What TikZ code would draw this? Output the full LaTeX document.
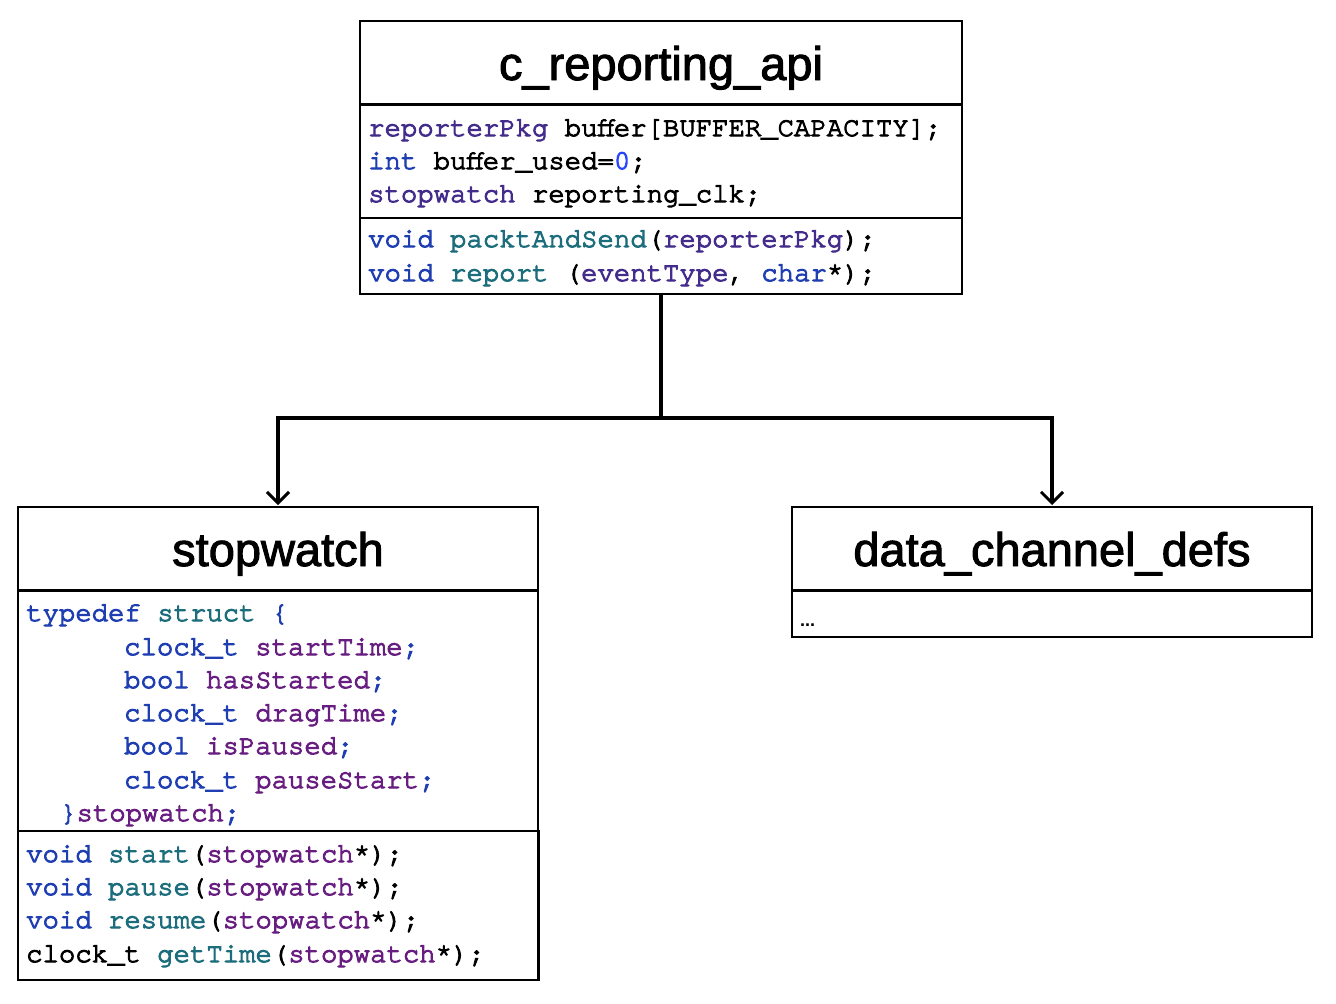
\documentclass[tikz,border=0pt]{standalone}
\usepackage{fontspec}
\setmainfont{Liberation Sans}
\newfontfamily\titlefont{Liberation Sans}[FakeBold=2]
\newfontfamily\codefont{TeX Gyre Cursor}[FakeBold=3.8]
\usetikzlibrary{arrows.meta}
\definecolor{kwc}{RGB}{30,62,178}
\definecolor{fnc}{RGB}{28,110,124}
\definecolor{tyc}{RGB}{68,44,140}
\definecolor{memc}{RGB}{104,30,128}
\definecolor{numc}{RGB}{40,70,255}
\newcommand{\kw}[1]{\textcolor{kwc}{#1}}
\newcommand{\fn}[1]{\textcolor{fnc}{#1}}
\newcommand{\ty}[1]{\textcolor{tyc}{#1}}
\newcommand{\mem}[1]{\textcolor{memc}{#1}}
\tikzset{
  classbox/.style={draw=black, line width=2pt, rectangle, inner sep=0pt},
  divider/.style={draw=black, line width=3pt},
  thindiv/.style={draw=black, line width=2pt},
  title/.style={font=\titlefont\fontsize{47}{50}\selectfont, anchor=base, inner sep=0pt},
  code/.style={font=\codefont\fontsize{27.3}{30}\selectfont, anchor=base west, inner sep=0pt},
  conn/.style={draw=black, line width=4pt},
  connarrow/.style={draw=black, line width=3.5pt, -{Straight Barb[length=11pt,width=22pt,line width=3pt]}, shorten >=1pt},
}
\begin{document}
\begin{tikzpicture}[x=1pt,y=-1pt]
\useasboundingbox[fill=white] (0,0) rectangle (1336,1004);

% c_reporting_api
\node[classbox, minimum width=602pt, minimum height=273pt] (api) at (661,157.5) {};
\draw[divider] (api.west |- 0,104) -- (api.east |- 0,104);
\draw[thindiv] (api.west |- 0,218) -- (api.east |- 0,218);
\node[title] (apititle) at (661,80) {c\_reporting\_api};
\node[code] (a1) at (368,136) {\ty{reporterPkg} buffer[BUFFER\_CAPACITY];};
\node[code] (a2) at (368,169) {\kw{int} buffer\_used=\textcolor{numc}{0};};
\node[code] (a3) at (368,202) {\ty{stopwatch} reporting\_clk;};
\node[code] (a4) at (368,247) {\kw{void} \fn{packtAndSend}(\ty{reporterPkg});};
\node[code] (a5) at (368,281) {\kw{void} \fn{report} (\ty{eventType}, \kw{char}*);};

% stopwatch
\node[classbox, minimum width=520pt, minimum height=473pt] (sw) at (278,743.5) {};
\draw[divider] (sw.west |- 0,590) -- (sw.east |- 0,590);
\node[classbox, minimum width=521pt, minimum height=149pt] (swm) at (278.5,905.5) {};
\node[title] (swtitle) at (278,566) {stopwatch};
\node[code] (s1) at (26,621) {\kw{typedef} \fn{struct} \kw{\{}};
\node[code] (s2) at (124,655) {\kw{clock\_t} \mem{startTime}\kw{;}};
\node[code] (s3) at (124,688) {\kw{bool} \mem{hasStarted}\kw{;}};
\node[code] (s4) at (124,721) {\kw{clock\_t} \mem{dragTime}\kw{;}};
\node[code] (s5) at (124,754) {\kw{bool} \mem{isPaused}\kw{;}};
\node[code] (s6) at (124,788) {\kw{clock\_t} \mem{pauseStart}\kw{;}};
\node[code] (s7) at (60,821) {\kw{\}}\mem{stopwatch}\kw{;}};
\node[code] (s8) at (26,862) {\kw{void} \fn{start}(\mem{stopwatch}*);};
\node[code] (s9) at (26,895) {\kw{void} \fn{pause}(\mem{stopwatch}*);};
\node[code] (s10) at (26,928) {\kw{void} \fn{resume}(\mem{stopwatch}*);};
\node[code] (s11) at (26,962) {clock\_t \fn{getTime}(\mem{stopwatch}*);};

% data_channel_defs
\node[classbox, minimum width=520pt, minimum height=130pt] (dc) at (1052,572) {};
\draw[divider] (dc.west |- 0,590) -- (dc.east |- 0,590);
\node[title] (dctitle) at (1052,566) {data\_channel\_defs};
\node[font=\fontsize{18}{20}\selectfont\bfseries, anchor=base west, inner sep=0pt] (dcdots) at (800,626) {...};

% connectors
\coordinate (junction) at (661,418);
\draw[conn] (api.south) -- (junction);
\draw[connarrow] (junction) -| (sw.north);
\draw[connarrow] (junction) -| (dc.north);
\end{tikzpicture}
\end{document}
